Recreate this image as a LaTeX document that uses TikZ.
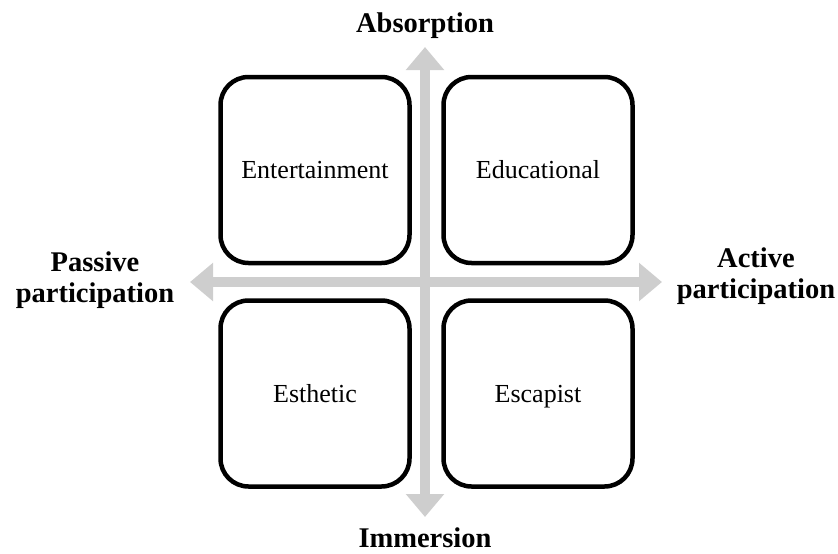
\documentclass[tikz,border=0pt]{standalone}
\usepackage{fontspec}
\setmainfont{Liberation Serif}
\usetikzlibrary{arrows.meta}
\definecolor{axisgray}{RGB}{206,206,206}
\tikzset{
  quadrant/.style={draw=black, line width=4.5pt, rounded corners=28pt, fill=white,
    minimum width=189pt, minimum height=186pt, inner sep=0pt,
    text height=17pt, text depth=0pt,
    font=\fontsize{26}{30}\selectfont},
  axislabel/.style={font=\fontsize{28.5}{31}\selectfont\bfseries, align=center, inner sep=0pt},
  axisarrow/.style={draw=axisgray, line width=10pt,
    {Triangle[width=37pt,length=23pt]}-{Triangle[width=37pt,length=23pt]}}
}
\begin{document}
\begin{tikzpicture}[x=1pt, y=-1pt]
  \useasboundingbox (0,0) rectangle (838,554);

  % axis end points
  \coordinate (top) at (425,47);
  \coordinate (bottom) at (425,517);
  \coordinate (left) at (190,282);
  \coordinate (right) at (662,282);

  % the two axes
  \draw[axisarrow] (left) -- (right);
  \draw[axisarrow] (top) -- (bottom);

  % the four realms
  \node[quadrant] (ent) at (315,170) {Entertainment};
  \node[quadrant] (edu) at (538,170) {Educational};
  \node[quadrant] (est) at (315,393.5) {Esthetic};
  \node[quadrant] (esc) at (538,393.5) {Escapist};

  % axis labels
  \node[axislabel, anchor=base] (absorption) at (425,32) {Absorption};
  \node[axislabel, anchor=base] (immersion) at (425,547) {Immersion};
  \node[axislabel] (passive) at (95,280) {Passive\\participation};
  \node[axislabel] (active) at (756,276) {Active\\participation};
\end{tikzpicture}
\end{document}
